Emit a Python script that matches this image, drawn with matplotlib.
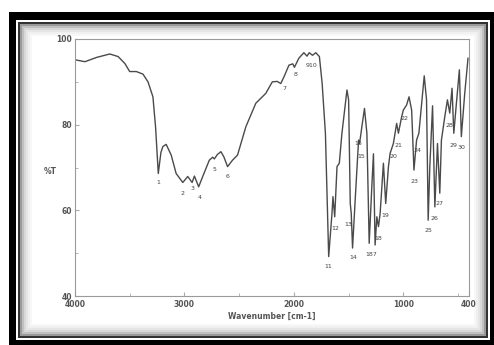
import matplotlib
matplotlib.use('Agg')
import matplotlib.pyplot as plt
from matplotlib.patches import Rectangle

# IR spectrum
wavenumber = [3990, 3909, 3803, 3682, 3606, 3545, 3500, 3439, 3379, 3333, 3288, 3264,
              3239, 3215, 3197, 3167, 3121, 3076, 3015, 2970, 2930, 2909, 2870, 2833,
              2773, 2742, 2727, 2700, 2667, 2640, 2606, 2561, 2515, 2439, 2348, 2257,
              2197, 2152, 2120, 2090, 2045, 2010, 1995, 1955, 1909, 1880, 1860, 1830,
              1800, 1767, 1742, 1712, 1682, 1652, 1643, 1627, 1606, 1585, 1561, 1515,
              1500, 1485, 1476, 1464, 1440, 1409, 1400, 1379, 1355, 1333, 1312, 1288,
              1273, 1258, 1242, 1227, 1212, 1182, 1161, 1136, 1121, 1091, 1061, 1045,
              1015, 1000, 970, 948, 924, 903, 879, 858, 809, 788, 773, 758,
              733, 712, 688, 667, 652, 621, 597, 576, 555, 539, 515, 488,
              470, 439, 409]
transmittance = [95.1, 94.7, 95.7, 96.5, 95.9, 94.3, 92.4, 92.4, 91.8, 90.0, 86.5, 79.5,
                 68.6, 73.5, 74.9, 75.4, 72.9, 68.6, 66.5, 67.9, 66.5, 68.0, 65.5, 67.9,
                 71.7, 72.4, 72.0, 73.0, 73.7, 72.5, 70.2, 71.7, 72.9, 79.5, 85.0, 87.3,
                 90.0, 90.1, 89.6, 91.2, 93.9, 94.2, 93.4, 95.5, 96.8, 96.0, 96.8, 96.2,
                 96.8, 95.9, 89.7, 78.0, 49.2, 59.3, 63.2, 58.5, 70.2, 71.0, 78.0, 88.1,
                 85.8, 61.6, 59.3, 51.2, 62.4, 76.4, 75.6, 79.5, 83.8, 78.0, 52.3, 65.5,
                 73.2, 51.9, 58.5, 56.2, 59.3, 71.0, 61.6, 70.2, 73.3, 75.6, 80.3, 78.0,
                 81.9, 83.4, 84.6, 86.5, 83.4, 69.4, 76.4, 78.0, 91.4, 85.8, 57.7, 70.2,
                 84.4, 60.8, 75.6, 64.0, 76.4, 81.9, 85.8, 82.7, 88.5, 78.0, 85.0, 92.8,
                 77.2, 87.3, 95.5]

peak_labels = ['1', '2', '3', '4', '5', '6', '7', '8', '910', '11', '12', '13', '14',
               '15', '16', '187', '18', '19', '20', '21', '22', '23', '24', '25', '26',
               '27', '28', '29', '30']
peak_wn = [3239, 3015, 2930, 2864, 2727, 2606, 2091, 1985, 1839, 1682, 1621, 1500, 1455,
           1385, 1409, 1294, 1227, 1167, 1091, 1045, 985, 900, 870, 773, 712,
           667, 576, 539, 470]
peak_t = [66.4, 64.0, 65.2, 63.0, 69.5, 67.8, 88.5, 91.6, 93.7, 46.8, 55.8, 56.8, 49.0,
          72.5, 75.6, 49.8, 53.5, 58.7, 72.5, 75.1, 81.5, 66.7, 73.9, 55.4, 58.1,
          61.6, 79.9, 75.1, 74.6]

W, H = 494, 345
fig = plt.figure(figsize=(W / 100, H / 100), dpi=100)


def px_rect(x0, y0, x1, y1, **kw):
    # rectangle given in image pixels (origin top-left), drawn behind the axes
    r = Rectangle((x0 / W, 1 - y1 / H), (x1 - x0) / W, (y1 - y0) / H,
                  transform=fig.transFigure, figure=fig, zorder=-10, **kw)
    fig.patches.append(r)


# photo-style frame
px_rect(9, 12, W, H, facecolor='black', edgecolor='none')
px_rect(16, 20, 490, 340, facecolor='white', edgecolor='none')
px_rect(18, 22, 488, 338, facecolor='#333333', edgecolor='none')
shades = ['#9a9a9a', '#c0c0c0', '#d8d8d8', '#e6e6e6', '#f0f0f0', '#f7f7f7', '#ffffff']
for i, c in enumerate(shades):
    px_rect(20 + 2 * i, 24 + 2 * i, 486 - 2 * i, 336 - 2 * i, facecolor=c, edgecolor='none')

ax = fig.add_axes([75 / W, 1 - 296 / H, (469 - 75) / W, (296 - 39) / H])
ax.set_facecolor('none')
ax.plot(wavenumber, transmittance, color='#4a4a4a', lw=1.0)

for lab, x, y in zip(peak_labels, peak_wn, peak_t):
    ax.text(x, y, lab, fontsize=4.5, color='#444444', ha='center', va='center')

ax.set_xlim(4000, 400)
ax.set_ylim(40, 100)
ax.set_xticks([4000, 3000, 2000, 1000, 400])
ax.set_xticklabels(['4000', '3000', '2000', '1000', '400'])
ax.set_xticks([3500, 2500, 1500, 500], minor=True)
ax.set_yticks([40, 60, 80, 100])
ax.set_yticks([50, 70, 90], minor=True)
ax.tick_params(axis='both', which='both', direction='in', color='#aaaaaa',
               labelsize=5.5, labelcolor='#555555')
ax.tick_params(axis='x', pad=3)
ax.tick_params(axis='y', pad=2)
ax.tick_params(which='major', length=3)
ax.tick_params(which='minor', length=2)
for lbl in ax.get_xticklabels() + ax.get_yticklabels():
    lbl.set_fontweight('bold')
for s in ax.spines.values():
    s.set_color('#9a9a9a')
    s.set_linewidth(0.8)

ax.set_xlabel('Wavenumber [cm-1]', fontsize=5.5, color='#555555', labelpad=2,
              fontweight='bold')
fig.text(50 / W, 1 - 171 / H, '%T', fontsize=5.5, color='#555555', ha='center',
         va='center', fontweight='bold')

fig.savefig('out.png', dpi=100)
